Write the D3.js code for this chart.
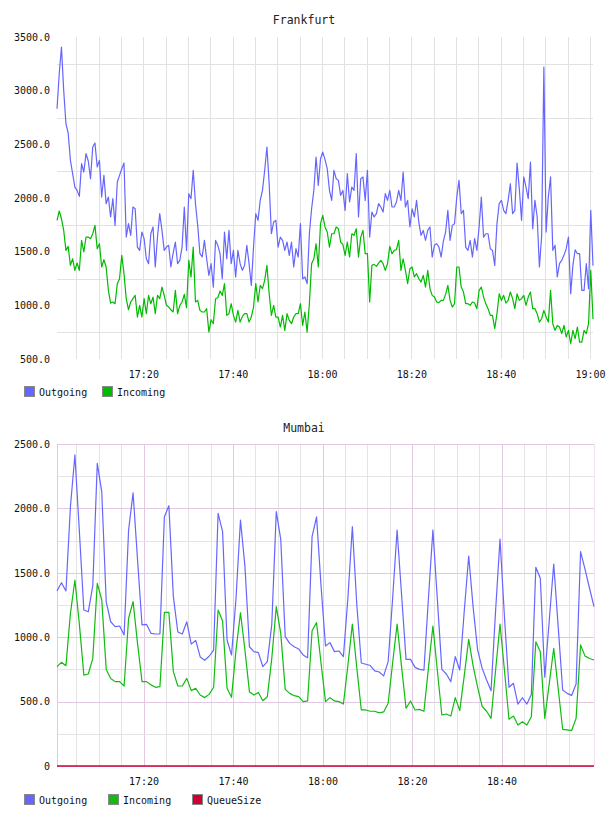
<!DOCTYPE html>
<html>
<head>
<meta charset="utf-8">
<script src="https://cdn.jsdelivr.net/npm/d3@7"></script>
<style>
  body { margin: 0; background: #fff; }
  text { font-family: "DejaVu Sans Mono", monospace; }
</style>
</head>
<body>
<div id="chart"></div>
<script>
// ---- data ----
var seriesNames = ["Outgoing", "Incoming", "QueueSize"];

// Frankfurt: one sample every 30 s from 17:00:40
var frankfurtStart = "17:00:40";
var frankfurtStepSec = 30;
var frankfurtOutgoing = [
  2832,3158,3407,3003,2692,2605,2351,2227,2102,2071,2015,2320,2242,2413,2345,2180,2475,2512,2289,2351,
  2009,2211,1947,2009,1823,1994,1745,2149,2211,2273,2326,1636,1761,1652,1916,1900,1543,1512,1683,1621,
  1434,1388,1667,1730,1357,1636,1854,1698,1512,1543,1559,1357,1487,1590,1388,1419,1543,1916,1512,2040,
  1994,2258,1947,1745,1481,1450,1605,1434,1279,1388,1170,1605,1559,1481,1248,1683,1434,1698,1388,1512,
  1264,1512,1388,1326,1372,1559,1388,1186,1543,1854,1792,1978,2071,2258,2475,2133,1667,1776,1792,1543,
  1636,1605,1512,1590,1466,1590,1357,1528,1450,1761,1248,1264,1202,1667,1900,2071,2382,2118,2366,2428,
  2357,2273,2071,1978,2258,2180,2164,2025,2071,1885,2227,1963,2102,2071,2413,1823,2180,2196,1978,2258,
  1636,1869,1823,1854,1947,1916,1869,2040,1978,2071,1916,1916,1963,2071,1978,2242,1916,1978,1730,1900,
  1823,1978,1776,1652,1698,1605,1698,1730,1450,1559,1574,1543,1450,1599,1683,1885,1605,1745,1761,2009,
  2164,1854,1885,1543,1512,1605,1450,1621,1512,1730,2009,1636,1667,1667,1528,1512,1372,1761,1947,1978,
  1885,1854,1978,2133,1854,1885,2326,2087,1792,2196,2102,1994,2335,1714,1978,1823,1357,1643,3220,1683,
  2009,2196,1512,1559,1264,1388,1419,1466,1528,1636,1108,1372,1518,1481,1481,1139,1139,1388,1155,1885,
  1369
];
var frankfurtIncoming = [
  1792,1879,1807,1698,1512,1549,1372,1434,1326,1394,1326,1605,1497,1636,1636,1621,1667,1745,1528,1574,
  1357,1425,1357,1139,1021,1031,1015,1202,1248,1466,1295,1062,959,1031,1062,1093,891,1000,891,1062,
  922,1093,1015,1077,922,1093,1062,1170,1093,1000,984,959,938,1139,922,1000,1031,1102,978,1419,
  1264,1543,1031,1046,953,938,938,969,751,866,829,1062,1071,1133,1093,1202,907,922,1015,907,
  844,953,844,897,922,922,844,891,984,1202,1031,1186,1155,1233,1372,1108,907,1000,891,891,
  798,907,767,922,860,829,891,922,922,1015,813,938,751,1015,1388,1434,1574,1357,1761,1838,
  1730,1683,1543,1667,1667,1730,1714,1590,1568,1466,1590,1450,1667,1652,1714,1450,1636,1698,1481,1481,
  1031,1372,1382,1363,1394,1419,1388,1326,1388,1549,1481,1512,1518,1605,1326,1434,1326,1202,1341,1357,
  1264,1295,1248,1217,1279,1170,1326,1155,1093,1077,1031,1025,1046,1046,1102,1186,1046,984,1015,1357,
  1357,1170,1124,1015,1015,1000,1031,1021,969,1139,1170,1077,1015,969,906,906,782,922,1108,1046,
  1093,1021,1046,1124,1062,969,1108,1046,1062,1093,1000,1077,1124,969,969,922,844,875,953,891,
  844,1139,829,767,813,798,736,813,705,767,642,767,689,798,658,658,767,736,829,1326,
  872
];
var frankfurtYLabels = [3500, 3000, 2500, 2000, 1500, 1000, 500];
var frankfurtYGrid = [3250, 2750, 2250, 1750, 1250, 750];
var frankfurtXLabels = ["17:20", "17:40", "18:00", "18:20", "18:40", "19:00"];

// Mumbai: one sample every minute from 17:00:40
var mumbaiStart = "17:00:40";
var mumbaiStepSec = 60;
var mumbaiOutgoing = [
  1359,1423,1359,2013,2415,1820,1211,1198,1400,2350,
  2130,1275,1120,1082,1087,1017,1832,2120,1600,1095,
  1100,1030,1025,1025,1935,2021,1315,1040,1025,1120,
  946,975,847,821,852,900,1962,1820,978,862,
  1300,1910,1550,926,888,880,771,810,1100,1975,
  1760,1004,952,926,909,862,841,1780,1935,1400,
  932,958,888,893,849,1300,1858,1250,800,790,
  780,738,730,700,810,1300,1832,1330,828,828,
  766,750,745,1300,1832,1290,750,714,655,849,
  745,1200,1630,1230,900,760,668,585,1200,1762,
  1150,611,642,481,530,481,556,1543,1457,689,
  1130,1568,1080,590,564,548,637,1664,1527,1380,
  1237
];
var mumbaiIncoming = [
  771,805,779,1185,1444,1100,706,714,836,1418,
  1289,750,680,655,655,621,1147,1276,950,655,
  655,630,611,616,1193,1193,733,621,621,680,
  585,603,551,531,556,611,1211,1126,603,533,
  900,1190,900,577,551,570,507,538,836,1237,
  1030,595,564,546,538,500,505,1050,1113,800,
  500,531,505,500,481,780,1102,760,435,435,
  425,425,412,420,487,800,1102,770,448,505,
  435,440,425,760,1087,740,396,404,388,531,
  430,700,983,776,611,464,425,370,740,1102,
  740,363,388,318,344,318,383,964,888,370,
  640,914,600,285,280,275,370,940,853,835,
  823
];
var mumbaiQueueSize = [
  0,0,0,0,0,0,0,0,0,0,0,0,0,0,0,0,0,0,0,0,
  0,0,0,0,0,0,0,0,0,0,0,0,0,0,0,0,0,0,0,0,
  0,0,0,0,0,0,0,0,0,0,0,0,0,0,0,0,0,0,0,0,
  0,0,0,0,0,0,0,0,0,0,0,0,0,0,0,0,0,0,0,0,
  0,0,0,0,0,0,0,0,0,0,0,0,0,0,0,0,0,0,0,0,
  0,0,0,0,0,0,0,0,0,0,0,0,0,0,0,0,0,0,0,0,
  0
];
var mumbaiYLabels = [2500, 2000, 1500, 1000, 500, 0];
var mumbaiYGrid = [2250, 1750, 1250, 750, 250];
var mumbaiXLabels = ["17:20", "17:40", "18:00", "18:20", "18:40"];

// ---- drawing ----
var parseHMS = d3.timeParse("%H:%M:%S");
var parseHM = d3.timeParse("%H:%M");
var fmt = d3.timeFormat("%H:%M");

var svg = d3.select("#chart").append("svg")
    .attr("width", 608)
    .attr("height", 816);

function toPoints(startStr, stepSec, values) {
    var t0 = parseHMS(startStr);
    return values.map(function (v, i) {
        return { t: new Date(t0.getTime() + i * stepSec * 1000), v: v };
    });
}

function drawPanel(o) {
    var g = svg.append("g");
    var t0 = parseHMS(o.start);
    var t1 = new Date(t0.getTime() + (o.series[0].values.length - 1) * o.step * 1000);

    var x = d3.scaleTime().domain([t0, t1]).range([o.left, o.right]);
    var y = d3.scaleLinear().domain(o.yDomain).range([o.bottom, o.top]);

    // 5 minute vertical grid
    var gridTimes = d3.timeMinute.every(5).range(d3.timeMinute.offset(t0, 1), o.gridEnd);
    var labelTimes = o.xLabels.map(function (s) { return parseHM(s); });
    var isMajor = function (d) {
        return labelTimes.some(function (l) { return l.getTime() === d.getTime(); });
    };

    g.selectAll(".vgrid").data(gridTimes).enter().append("line")
        .attr("x1", function (d) { return Math.round(x(d)) + 0.5; })
        .attr("x2", function (d) { return Math.round(x(d)) + 0.5; })
        .attr("y1", o.top).attr("y2", o.bottom)
        .attr("stroke", function (d) { return (o.pink && isMajor(d)) ? o.pinkColor : o.gridColor; })
        .attr("stroke-width", 1);

    var hLines = o.yGrid.concat(o.pink ? o.yLabels : []);
    g.selectAll(".hgrid").data(hLines).enter().append("line")
        .attr("x1", o.left).attr("x2", o.right)
        .attr("y1", function (d) { return Math.round(y(d)) + 0.5; })
        .attr("y2", function (d) { return Math.round(y(d)) + 0.5; })
        .attr("stroke", function (d) { return o.yLabels.indexOf(d) >= 0 ? o.pinkColor : o.gridColor; })
        .attr("stroke-width", 1);

    if (o.pink) {
        g.append("line")
            .attr("x1", o.left + 0.5).attr("x2", o.left + 0.5)
            .attr("y1", o.top).attr("y2", o.bottom)
            .attr("stroke", o.pinkColor);
        g.append("line")
            .attr("x1", o.right + 0.5).attr("x2", o.right + 0.5)
            .attr("y1", o.top).attr("y2", o.bottom)
            .attr("stroke", "#f0e0f0");
    }

    // y axis labels
    var yAxis = d3.axisLeft(y)
        .tickValues(o.yLabels)
        .tickSize(0)
        .tickPadding(7)
        .tickFormat(function (d) { return d === 0 ? "0" : d.toFixed(1); });
    var ya = g.append("g").attr("transform", "translate(" + o.left + ",0)").call(yAxis);
    ya.select(".domain").remove();
    ya.selectAll("text").attr("font-family", "DejaVu Sans Mono").attr("font-size", 10).attr("fill", "#111");

    // x axis labels
    var xAxis = d3.axisBottom(x)
        .tickValues(labelTimes)
        .tickSize(0)
        .tickPadding(o.xPad)
        .tickFormat(fmt);
    var xa = g.append("g").attr("transform", "translate(0," + o.bottom + ")").call(xAxis);
    xa.select(".domain").remove();
    xa.selectAll("text").attr("font-family", "DejaVu Sans Mono").attr("font-size", 10).attr("fill", "#111");

    // lines
    var line = d3.line()
        .x(function (d) { return x(d.t); })
        .y(function (d) { return y(d.v); });

    o.series.forEach(function (s) {
        g.append("path")
            .datum(toPoints(o.start, o.step, s.values))
            .attr("d", line)
            .attr("fill", "none")
            .attr("stroke", s.color)
            .attr("stroke-width", s.width || 1.2)
            .attr("stroke-linejoin", "round");
    });

    // title, centred on the page
    g.append("text")
        .attr("x", 304)
        .attr("y", o.titleY)
        .attr("text-anchor", "middle")
        .attr("dy", "0.35em")
        .attr("font-size", 11.5)
        .attr("fill", "#222")
        .text(o.title);

    // legend
    o.series.forEach(function (s, i) {
        var lx = o.legendX[i];
        g.append("rect")
            .attr("x", lx + 0.5).attr("y", o.legendY - 5.5)
            .attr("width", 10).attr("height", 10)
            .attr("fill", s.color)
            .attr("stroke", "#888");
        g.append("text")
            .attr("x", lx + 15).attr("y", o.legendY)
            .attr("dy", "0.35em")
            .attr("font-size", 10)
            .attr("fill", "#111")
            .text(s.name);
    });
}

drawPanel({
    title: "Frankfurt", titleY: 20,
    left: 57, right: 593, top: 37, bottom: 359,
    start: frankfurtStart, step: frankfurtStepSec,
    gridEnd: parseHM("19:01"),
    yDomain: [500, 3500], yLabels: frankfurtYLabels, yGrid: frankfurtYGrid,
    xLabels: frankfurtXLabels, xPad: 12,
    pink: false, gridColor: "#e2e2e2", pinkColor: "#e2cce2",
    legendY: 392, legendX: [24, 102],
    series: [
        { name: seriesNames[0], color: "#6666ff", values: frankfurtOutgoing },
        { name: seriesNames[1], color: "#00bb00", values: frankfurtIncoming }
    ]
});

drawPanel({
    title: "Mumbai", titleY: 428,
    left: 57, right: 594, top: 444, bottom: 766,
    start: mumbaiStart, step: mumbaiStepSec,
    gridEnd: parseHM("18:56"),
    yDomain: [0, 2500], yLabels: mumbaiYLabels, yGrid: mumbaiYGrid,
    xLabels: mumbaiXLabels, xPad: 12,
    pink: true, gridColor: "#e4e4e4", pinkColor: "#e2c8e2",
    legendY: 800, legendX: [24, 108, 192],
    series: [
        { name: seriesNames[0], color: "#6666ff", values: mumbaiOutgoing },
        { name: seriesNames[1], color: "#11bb11", values: mumbaiIncoming },
        { name: seriesNames[2], color: "#cc0033", values: mumbaiQueueSize, width: 1.5 }
    ]
});
</script>
</body>
</html>
